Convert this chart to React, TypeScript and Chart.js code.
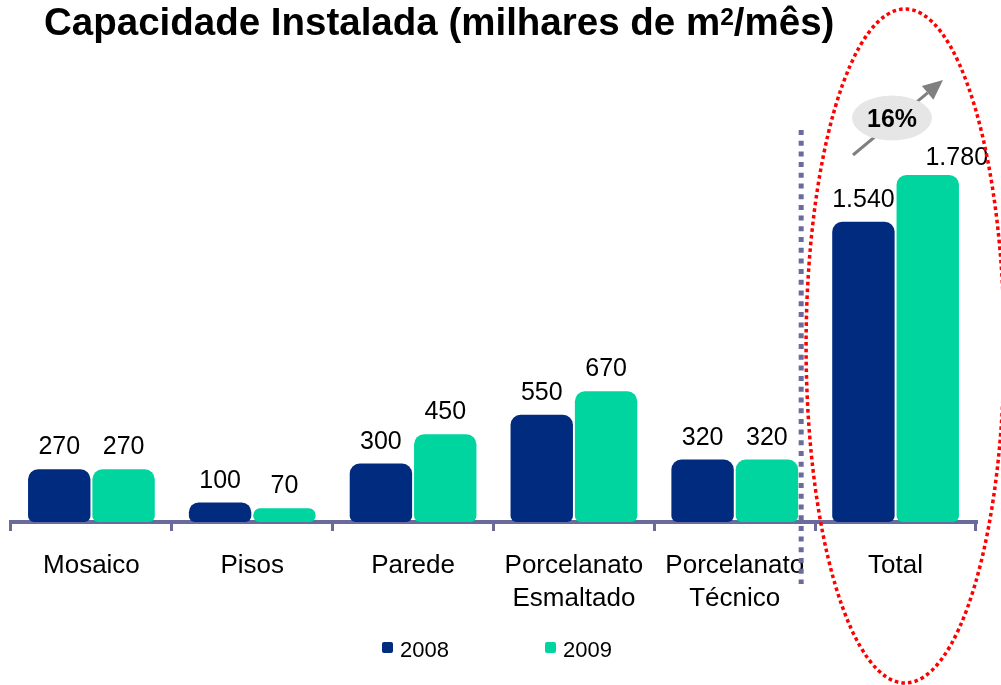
import React, { useEffect, useRef } from 'react';
import { Chart, registerables } from 'chart.js';

Chart.register(...registerables);

// ---- data ----
const categories: string[][] = [
  ['Mosaico'],
  ['Pisos'],
  ['Parede'],
  ['Porcelanato', 'Esmaltado'],
  ['Porcelanato', 'Técnico'],
  ['Total'],
];
const seriesNames = ['2008', '2009'];
const values2008 = [270, 100, 300, 550, 320, 1540];
const values2009 = [270, 70, 450, 670, 320, 1780];
const growthText = '16%';

// ---- styles ----
const NAVY = '#002B7F';
const TEAL = '#00D5A0';
const AXIS = '#6B6B9B';
const FONT = '"Liberation Sans", Arial, Helvetica, sans-serif';

const fmt = (v: number) => String(v).replace(/\B(?=(\d{3})+(?!\d))/g, '.');

const overlayPlugin = {
  id: 'overlay',
  afterDatasetsDraw(chart: any) {
    const ctx: CanvasRenderingContext2D = chart.ctx;
    const xs = chart.scales.x;
    const catW = xs.width / categories.length;

    // value labels
    ctx.save();
    ctx.font = `25px ${FONT}`;
    ctx.fillStyle = '#000';
    ctx.textAlign = 'center';
    ctx.textBaseline = 'alphabetic';
    chart.data.datasets.forEach((ds: any, di: number) => {
      const meta = chart.getDatasetMeta(di);
      meta.data.forEach((bar: any, i: number) => {
        let dx = 0;
        let dy = 0;
        if (di === 1 && i === ds.data.length - 1) {
          dx = 29;
          dy = 5;
        }
        ctx.fillText(fmt(ds.data[i]), bar.x + dx, bar.y - 15 + dy);
      });
    });
    ctx.restore();

    // dotted separator before Total
    const sepX = xs.getPixelForValue(4) + catW / 2 - 14;
    ctx.save();
    ctx.strokeStyle = AXIS;
    ctx.lineWidth = 5;
    ctx.setLineDash([5, 5.7]);
    ctx.beginPath();
    ctx.moveTo(sepX, 130);
    ctx.lineTo(sepX, 584);
    ctx.stroke();
    ctx.restore();

    // red dotted ellipse around Total
    const totX = xs.getPixelForValue(5);
    ctx.save();
    ctx.strokeStyle = '#FF0000';
    ctx.lineWidth = 3.5;
    ctx.setLineDash([3.6, 3.1]);
    ctx.beginPath();
    ctx.ellipse(totX + 9.5, 346, 99, 337, 0, 0, Math.PI * 2);
    ctx.stroke();
    ctx.restore();

    // growth arrow
    const sx = 853, sy = 155, tx = 943, ty = 80;
    const len = Math.hypot(tx - sx, ty - sy);
    const ux = (tx - sx) / len, uy = (ty - sy) / len;
    const hl = 20, hw = 9;
    const bx = tx - ux * hl, by = ty - uy * hl;
    ctx.save();
    ctx.strokeStyle = '#808080';
    ctx.fillStyle = '#808080';
    ctx.lineWidth = 3;
    ctx.beginPath();
    ctx.moveTo(sx, sy);
    ctx.lineTo(bx, by);
    ctx.stroke();
    ctx.beginPath();
    ctx.moveTo(tx, ty);
    ctx.lineTo(bx - uy * hw, by + ux * hw);
    ctx.lineTo(bx + uy * hw, by - ux * hw);
    ctx.closePath();
    ctx.fill();
    // badge
    ctx.fillStyle = '#E6E6E6';
    ctx.beginPath();
    ctx.ellipse(892, 118, 40, 22.5, 0, 0, Math.PI * 2);
    ctx.fill();
    ctx.fillStyle = '#000';
    ctx.font = `bold 25px ${FONT}`;
    ctx.textAlign = 'center';
    ctx.textBaseline = 'alphabetic';
    ctx.fillText(growthText, 892, 127);
    ctx.restore();
  },
  afterDraw(chart: any) {
    const ctx: CanvasRenderingContext2D = chart.ctx;
    // legend
    ctx.save();
    ctx.font = `22px ${FONT}`;
    ctx.textAlign = 'left';
    ctx.textBaseline = 'alphabetic';
    chart.data.datasets.forEach((ds: any, i: number) => {
      const x0 = 382 + 163 * i;
      ctx.fillStyle = ds.backgroundColor;
      ctx.beginPath();
      (ctx as any).roundRect(x0, 642, 11, 11, 2);
      ctx.fill();
      ctx.fillStyle = '#000';
      ctx.fillText(ds.label, x0 + 18, 657);
    });
    ctx.restore();
  },
};

export default function App() {
  const ref = useRef<HTMLCanvasElement | null>(null);

  useEffect(() => {
    if (!ref.current) return;
    Chart.defaults.font.family = FONT;
    const chart = new Chart(ref.current, {
      type: 'bar',
      data: {
        labels: categories,
        datasets: [
          {
            label: seriesNames[0],
            data: values2008,
            backgroundColor: NAVY,
            borderSkipped: false,
            borderRadius: { topLeft: 10, topRight: 10, bottomLeft: 6, bottomRight: 6 },
            categoryPercentage: 0.8,
            barPercentage: 0.97,
          },
          {
            label: seriesNames[1],
            data: values2009,
            backgroundColor: TEAL,
            borderSkipped: false,
            borderRadius: { topLeft: 10, topRight: 10, bottomLeft: 6, bottomRight: 6 },
            categoryPercentage: 0.8,
            barPercentage: 0.97,
          },
        ],
      },
      options: {
        animation: false,
        responsive: false,
        maintainAspectRatio: false,
        devicePixelRatio: 1,
        layout: { padding: { left: 11, right: 25, top: 93, bottom: 63 } },
        plugins: {
          legend: { display: false },
          title: { display: false },
          tooltip: { enabled: false },
        },
        scales: {
          x: {
            offset: true,
            grid: {
              display: true,
              drawOnChartArea: false,
              drawTicks: true,
              tickLength: 9,
              color: AXIS,
              lineWidth: 3,
              offset: true,
            },
            border: { display: true, color: AXIS, width: 4 },
            ticks: {
              color: '#000',
              font: { size: 26, lineHeight: 1.25, family: FONT },
              padding: 19,
              maxRotation: 0,
              autoSkip: false,
            },
            afterFit: (s: any) => {
              s.height = 100;
            },
          },
          y: { display: false, min: 0, max: 2200 },
        },
      },
      plugins: [overlayPlugin],
    } as any);
    return () => chart.destroy();
  }, []);

  return (
    <div style={{ position: 'absolute', left: 0, top: 0, width: 1001, height: 685, background: '#fff' }}>
      <canvas ref={ref} width={1001} height={685} style={{ display: 'block', position: 'absolute', left: 0, top: 0 }} />
      <div
        style={{
          position: 'absolute',
          left: 44,
          top: 3,
          font: `bold 38.5px ${FONT}`,
          lineHeight: '38px',
          whiteSpace: 'nowrap',
          color: '#000',
        }}
      >
        Capacidade Instalada (milhares de m
        <span style={{ fontSize: '0.64em', position: 'relative', top: -10 }}>2</span>
        /mês)
      </div>
    </div>
  );
}
